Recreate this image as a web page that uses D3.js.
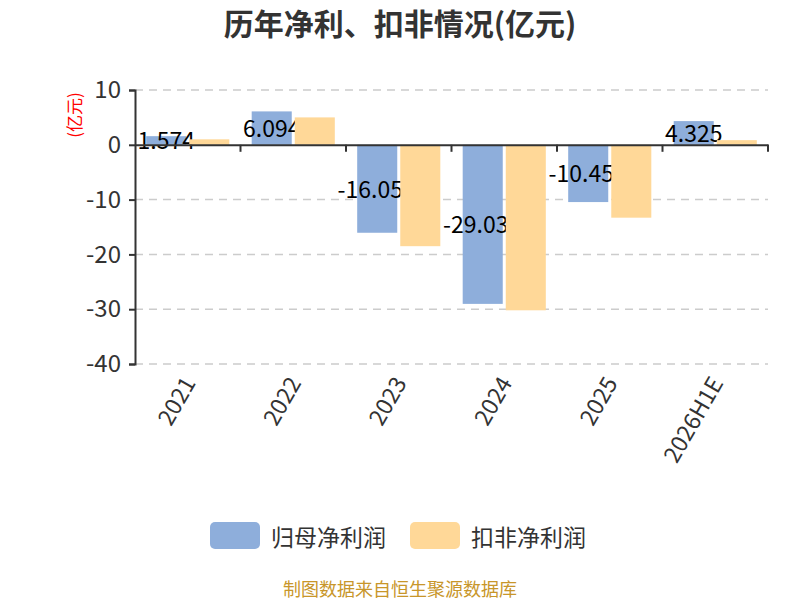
<!DOCTYPE html>
<html>
<head>
<meta charset="utf-8">
<script src="https://cdn.jsdelivr.net/npm/d3@7"></script>
<style>
  body { margin: 0; background: #fff; }
  svg text { font-family: "Noto Sans CJK SC", "Noto Sans", sans-serif; }
</style>
</head>
<body>
<div id="chart"></div>
<script>
// 历年净利、扣非情况

const categories = ["2021", "2022", "2023", "2024", "2025", "2026H1E"];
const seriesNames = ["归母净利润", "扣非净利润"];
const netProfit = [1.574, 6.094, -16.05, -29.03, -10.45, 4.325];
const deductedProfit = [1.0, 5.0, -18.5, -30.2, -13.3, 0.85];
const yTicks = [10, 0, -10, -20, -30, -40];
const colors = ["#8eaedb", "#ffd898"];

const width = 800, height = 600;

const svg = d3.select("#chart")
    .append("svg")
    .attr("width", width)
    .attr("height", height);

const x = d3.scaleBand()
    .domain(categories)
    .range([135, 768]);

const xs = d3.scaleBand()
    .domain(seriesNames)
    .range([0, x.bandwidth()])
    .paddingInner(0.07)
    .paddingOuter(0.26);

const y = d3.scaleLinear()
    .domain([-40, 10])
    .range([364, 90]);

// title
svg.append("text")
    .attr("x", 400)
    .attr("y", 22)
    .attr("text-anchor", "middle")
    .attr("dominant-baseline", "central")
    .attr("font-size", "30px")
    .attr("font-weight", "bold")
    .attr("fill", "#333")
    .text("历年净利、扣非情况(亿元)");

// unit label
svg.append("text")
    .attr("transform", "translate(73,115) rotate(-90)")
    .attr("text-anchor", "middle")
    .attr("dominant-baseline", "central")
    .attr("font-size", "17px")
    .attr("fill", "red")
    .text("(亿元)");

// dashed grid
svg.append("g")
    .selectAll("line")
    .data(yTicks.filter(d => d !== 0))
    .enter().append("line")
    .attr("x1", 135)
    .attr("x2", 768)
    .attr("y1", d => y(d))
    .attr("y2", d => y(d))
    .attr("stroke", "#ccc")
    .attr("stroke-width", 1.5)
    .attr("stroke-dasharray", "8,6");

// y axis
const yAxis = svg.append("g")
    .attr("transform", "translate(135,0)")
    .call(d3.axisLeft(y).tickValues(yTicks).tickFormat(d => String(d)).tickSize(6).tickPadding(8));
yAxis.select(".domain").attr("stroke", "#333").attr("stroke-width", 2);
yAxis.selectAll(".tick line").attr("stroke", "#333").attr("stroke-width", 2);
yAxis.selectAll(".tick text")
    .attr("font-size", "24px")
    .attr("fill", "#333")
    .style("font-family", "'Noto Sans CJK SC', 'Noto Sans', sans-serif");

// bars (series 1)
const groups = svg.append("g")
    .selectAll("g")
    .data(categories)
    .enter().append("g")
    .attr("transform", d => `translate(${x(d)},0)`);

groups.append("rect")
    .attr("x", xs(seriesNames[0]))
    .attr("width", xs.bandwidth())
    .attr("y", (d, i) => y(Math.max(0, netProfit[i])))
    .attr("height", (d, i) => Math.abs(y(netProfit[i]) - y(0)))
    .attr("fill", colors[0]);

// value labels
groups.append("text")
    .attr("x", xs(seriesNames[0]) + xs.bandwidth() / 2)
    .attr("dx", (d, i) => netProfit[i] < 0 ? -7 : 0)
    .attr("y", (d, i) => (y(netProfit[i]) + y(0)) / 2 - 1)
    .attr("text-anchor", "middle")
    .attr("dominant-baseline", "central")
    .attr("font-size", "23px")
    .attr("fill", "#000")
    .text((d, i) => netProfit[i]);

// bars (series 2), drawn over the labels
groups.append("rect")
    .attr("x", xs(seriesNames[1]))
    .attr("width", xs.bandwidth())
    .attr("y", (d, i) => y(Math.max(0, deductedProfit[i])))
    .attr("height", (d, i) => Math.abs(y(deductedProfit[i]) - y(0)))
    .attr("fill", colors[1]);

// x axis at zero
const xAxis = svg.append("g")
    .attr("transform", `translate(0,${y(0)})`)
    .call(d3.axisBottom(x).tickSize(0).tickFormat(""));
xAxis.select(".domain").attr("stroke", "#333").attr("stroke-width", 2);
xAxis.selectAll(".tick").remove();

svg.append("g")
    .selectAll("line")
    .data(categories)
    .enter().append("line")
    .attr("x1", d => x(d) + x.bandwidth())
    .attr("x2", d => x(d) + x.bandwidth())
    .attr("y1", y(0))
    .attr("y2", y(0) + 7)
    .attr("stroke", "#333")
    .attr("stroke-width", 2);

// category labels
svg.append("g")
    .selectAll("text")
    .data(categories)
    .enter().append("text")
    .attr("transform", d => `translate(${x(d) + x.bandwidth() / 2},${y(-40) + 14}) rotate(-60)`)
    .attr("text-anchor", "end")
    .attr("dominant-baseline", "central")
    .attr("font-size", "23px")
    .attr("fill", "#333")
    .text(d => d);

// legend
const legend = svg.append("g")
    .selectAll("g")
    .data(seriesNames)
    .enter().append("g")
    .attr("transform", (d, i) => `translate(${210 + i * 200},522)`);

legend.append("rect")
    .attr("width", 50)
    .attr("height", 27)
    .attr("rx", 5)
    .attr("fill", (d, i) => colors[i]);

legend.append("text")
    .attr("x", 61)
    .attr("y", 14)
    .attr("dominant-baseline", "central")
    .attr("font-size", "23px")
    .attr("fill", "#333")
    .text(d => d);

// source
svg.append("text")
    .attr("x", 400)
    .attr("y", 588)
    .attr("text-anchor", "middle")
    .attr("dominant-baseline", "central")
    .attr("font-size", "18px")
    .attr("fill", "#c8962a")
    .text("制图数据来自恒生聚源数据库");
</script>
</body>
</html>
